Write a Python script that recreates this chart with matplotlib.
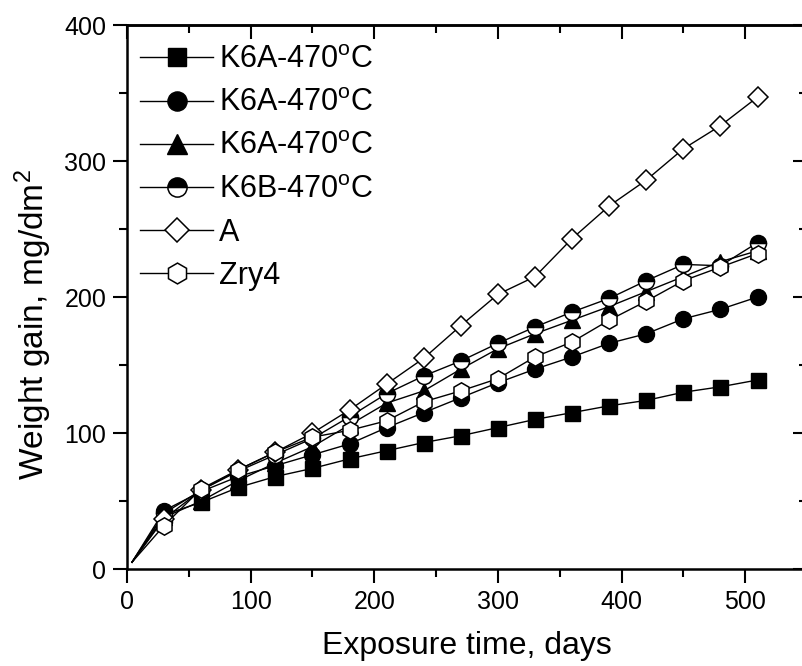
import matplotlib
matplotlib.use('Agg')
import matplotlib.pyplot as plt
from matplotlib.ticker import MultipleLocator

plt.rcParams['font.family'] = ['Liberation Sans', 'DejaVu Sans']
plt.rcParams['mathtext.fontset'] = 'custom'
plt.rcParams['mathtext.rm'] = 'Liberation Sans'
plt.rcParams['mathtext.it'] = 'Liberation Sans:italic'

#Data (days, weight gain in mg/dm2).
days = [4, 30, 60, 90, 120, 150, 180, 210, 240, 270, 300, 330, 360, 390, 420, 450, 480, 510]
k6a_1 = [5, 40, 49, 60, 68, 74, 81, 87, 93, 98, 104, 110, 115, 120, 124, 130, 134, 139]
k6a_2 = [5, 43, 57, 68, 76, 84, 92, 104, 115, 126, 137, 147, 156, 166, 173, 184, 191, 200]
k6a_3 = [5, 38, 50, 65, 78, 90, 106, 122, 131, 147, 162, 173, 183, 193, 204, 215, 226, 234]
k6b = [5, 41, 58, 72, 84, 96, 112, 129, 142, 153, 166, 178, 189, 199, 212, 224, 223, 240]
alloy_a = [5, 37, 58, 73, 86, 100, 117, 136, 155, 179, 202, 215, 243, 267, 286, 309, 326, 347]
zry4 = [5, 32, 59, 73, 86, 97, 102, 109, 123, 131, 140, 156, 167, 183, 197, 212, 222, 232]

labels = [r'K6A-470$^{\mathrm{o}}$C', r'K6A-470$^{\mathrm{o}}$C', r'K6A-470$^{\mathrm{o}}$C',
          r'K6B-470$^{\mathrm{o}}$C', 'A', 'Zry4']

fig = plt.figure(figsize=(8.03, 6.66), dpi=100)
ax = fig.add_axes([0.1582, 0.1456, 0.8468, 0.8168])

#No big marker on the starting point, only from day 30 on.
marks = list(range(1, len(days)))

#One line per alloy, black lines with the marker styles of the original.
ax.plot(days, k6a_1, color='black', lw=1, marker='s', ms=10.8, mfc='black', mec='black',
        markevery=marks, label=labels[0])
ax.plot(days, k6a_2, color='black', lw=1, marker='o', ms=11.5, mfc='black', mec='black',
        markevery=marks, label=labels[1])
ax.plot(days, k6a_3, color='black', lw=1, marker='^', ms=11.5, mfc='black', mec='black',
        markevery=marks, label=labels[2])
ax.plot(days, k6b, color='black', lw=1, marker='o', ms=11.5, fillstyle='top', mfc='black',
        mfcalt='white', mec='black', mew=1.1, markevery=marks, label=labels[3])
ax.plot(days, alloy_a, color='black', lw=1, marker='D', ms=10.2, mfc='white', mec='black', mew=1.1,
        markevery=marks, label=labels[4])
ax.plot(days, zry4, color='black', lw=1, marker='h', ms=12.5, mfc='white', mec='black', mew=1.1,
        markevery=marks, label=labels[5])

ax.set_xlim(0, 550)
ax.set_ylim(0, 400)
ax.xaxis.set_major_locator(MultipleLocator(100))
ax.xaxis.set_minor_locator(MultipleLocator(50))
ax.yaxis.set_major_locator(MultipleLocator(100))
ax.yaxis.set_minor_locator(MultipleLocator(50))
ax.set_xticks([0, 100, 200, 300, 400, 500])
ax.tick_params(which='major', direction='out', length=10, width=1.5, labelsize=18, pad=5)
ax.tick_params(which='minor', direction='out', length=5.5, width=1.5)

for s in ax.spines.values():
    s.set_linewidth(1.8)

#Top and right ticks point inward, without labels.
top = ax.secondary_xaxis('top')
top.xaxis.set_major_locator(MultipleLocator(100))
top.xaxis.set_minor_locator(MultipleLocator(50))
top.tick_params(which='major', direction='in', length=10, width=1.5, labeltop=False)
top.tick_params(which='minor', direction='in', length=5.5, width=1.5)
top.spines['top'].set_linewidth(1.8)
right = ax.secondary_yaxis('right')
right.yaxis.set_major_locator(MultipleLocator(100))
right.yaxis.set_minor_locator(MultipleLocator(50))
right.tick_params(which='major', direction='in', length=10, width=1.5, labelright=False)
right.tick_params(which='minor', direction='in', length=5.5, width=1.5)
right.spines['right'].set_linewidth(1.8)

ax.set_xlabel('Exposure time, days', fontsize=23, labelpad=12)
ax.set_ylabel(r'Weight gain, mg/dm$^{\mathrm{2}}$', fontsize=24)
ax.yaxis.set_label_coords(-0.108, 0.45)

ax.legend(loc='upper left', bbox_to_anchor=(0.019, 0.963), frameon=False, fontsize=22,
          handlelength=2.4, handletextpad=0.2, labelspacing=0.43, borderpad=0,
          borderaxespad=0, markerscale=1.2)

fig.savefig('out.png', dpi=100)
